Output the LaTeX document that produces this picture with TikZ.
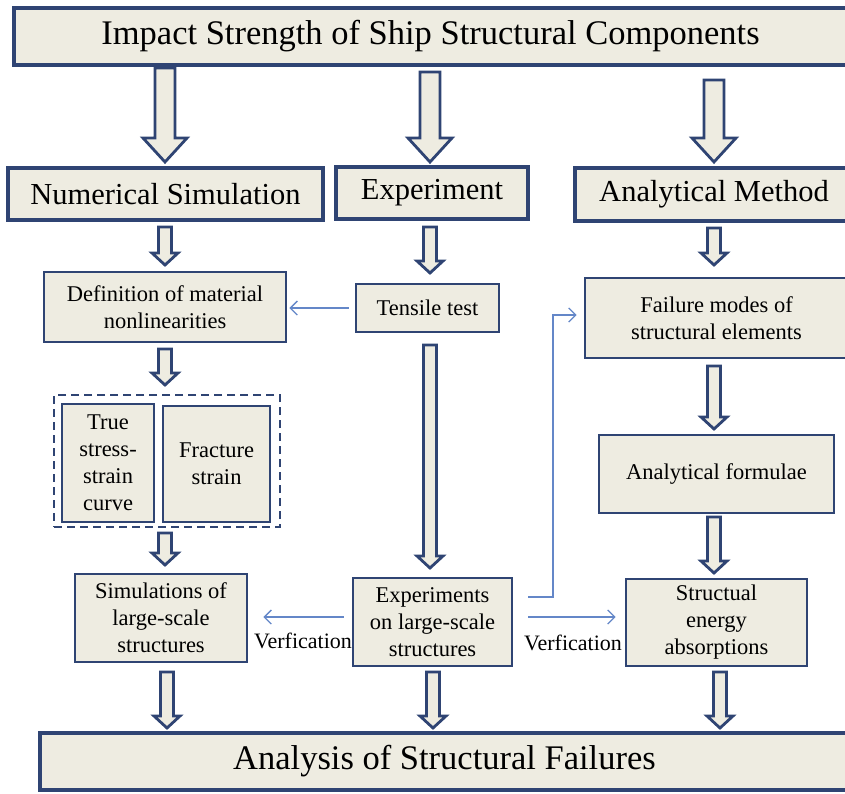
\documentclass[tikz,border=0pt]{standalone}
\usepackage{fontspec}
\setmainfont{Liberation Serif}
\usetikzlibrary{arrows.meta}
\definecolor{boxfill}{RGB}{238,236,225}
\definecolor{navy}{RGB}{47,68,115}
\definecolor{thinblue}{RGB}{100,135,200}
\tikzset{
  box/.style={draw=navy, fill=boxfill, line width=2.8pt, inner sep=0pt, align=center,
    font=\fontsize{22.5}{27}\selectfont},
  bigbox/.style={box, line width=3.5pt},
  blk/.style={draw=navy, fill=boxfill, line width=2.8pt, line join=miter},
  thinarr/.style={draw=thinblue, line width=1.3pt, -{Straight Barb[length=7pt,width=14pt]}},
  lbl/.style={font=\fontsize{22}{26}\selectfont, inner sep=0pt}
}
\newcommand{\barrow}[6]{\draw[blk] (#1-#4,#2) -- (#1+#4,#2) -- (#1+#4,#3-#6) -- (#1+#5,#3-#6) -- (#1,#3) -- (#1-#5,#3-#6) -- (#1-#4,#3-#6) -- cycle;}
\begin{document}
\begin{tikzpicture}[x=1pt,y=-1pt]
\clip (0,0) rectangle (845,793);
\fill[white] (0,0) rectangle (845,793);

% top level
\node[bigbox, minimum width=833pt, minimum height=57pt, font=\fontsize{34.5}{40}\selectfont] (title) at (430.5,36.5) {Impact Strength of Ship Structural Components};
\node[bigbox, minimum width=315pt, minimum height=52pt, font=\fontsize{30.5}{36}\selectfont] (num) at (165.5,194) {Numerical Simulation};
\node[bigbox, minimum width=192pt, minimum height=52pt, font=\fontsize{30.5}{36}\selectfont] (exp) at (432,193) {Experiment};
\node[bigbox, minimum width=278pt, minimum height=53pt, font=\fontsize{30.5}{36}\selectfont] (ana) at (714,194.5) {Analytical Method};

% third level
\node[box, minimum width=242pt, minimum height=70pt] (def) at (165,307) {Definition of material\\nonlinearities};
\node[box, minimum width=143pt, minimum height=48pt] (tens) at (427.5,308) {Tensile test};
\node[box, minimum width=263pt, minimum height=80pt] (fail) at (716.5,318) {Failure modes of\\structural elements};

% dashed group
\node[draw=navy, line width=2pt, dash pattern=on 8pt off 5pt, minimum width=226pt, minimum height=132pt, inner sep=0pt] (grp) at (167,461) {};
\node[box, line width=2.2pt, minimum width=92pt, minimum height=118pt] (tss) at (108,463) {True\\stress-\\strain\\curve};
\node[box, line width=2.2pt, minimum width=107pt, minimum height=116pt] (frac) at (216.5,464) {Fracture\\strain};

\node[box, minimum width=235pt, minimum height=78pt] (form) at (716.5,474) {Analytical formulae};

% fourth level
\node[box, minimum width=172pt, minimum height=88pt] (sim) at (161,618) {Simulations of\\large-scale\\structures};
\node[box, minimum width=159pt, minimum height=88pt] (expl) at (432.5,622) {Experiments\\on large-scale\\structures};
\node[box, minimum width=181pt, minimum height=87pt] (sea) at (716.5,622.5) {Structual\\energy\\absorptions};

% bottom
\node[bigbox, minimum width=809pt, minimum height=57pt, font=\fontsize{34.5}{40}\selectfont] (fin) at (444.5,761.5) {Analysis of Structural Failures};

% block arrows: x, ytop, ytip, shaft half, head half, head length
\barrow{165}{68}{162}{10}{22}{24}
\barrow{430}{72}{162}{10}{22}{24}
\barrow{714}{80}{162}{10}{22}{24}

\barrow{165}{227}{265}{6.5}{13}{12}
\barrow{430}{227}{273}{6.5}{13}{12}
\barrow{714}{228}{265}{6.5}{13}{12}

\barrow{165}{349}{385}{6.5}{13}{12}
\barrow{165}{533}{565}{6.5}{13}{12}
\barrow{430}{345}{568}{6.5}{13}{12}
\barrow{714}{366}{429}{6.5}{13}{12}
\barrow{714}{517}{573}{6.5}{13}{12}

\barrow{167}{672}{728}{6.5}{13}{12}
\barrow{433}{672}{728}{6.5}{13}{12}
\barrow{720}{672}{728}{6.5}{13}{12}

% thin connectors
\draw[thinarr, shorten <=6pt, shorten >=2pt] (tens.west) -- (tens.west -| def.east);
\coordinate (bend1) at (553,597);
\coordinate (bend2) at (553,315);
\draw[thinarr, shorten >=7pt] ([xshift=15pt]expl.east |- bend1) -- (bend1) -- (bend2) -- (fail.west |- bend2);
\draw[thinarr, shorten <=8pt, shorten >=15pt] (expl.west |- 0,617) -- (sim.east |- 0,617);
\draw[thinarr, shorten <=15pt, shorten >=9pt] (expl.east |- 0,617) -- (sea.west |- 0,617);

\node[lbl] (v1) at (303,641) {Verfication};
\node[lbl] (v2) at (573,643) {Verfication};
\end{tikzpicture}
\end{document}
